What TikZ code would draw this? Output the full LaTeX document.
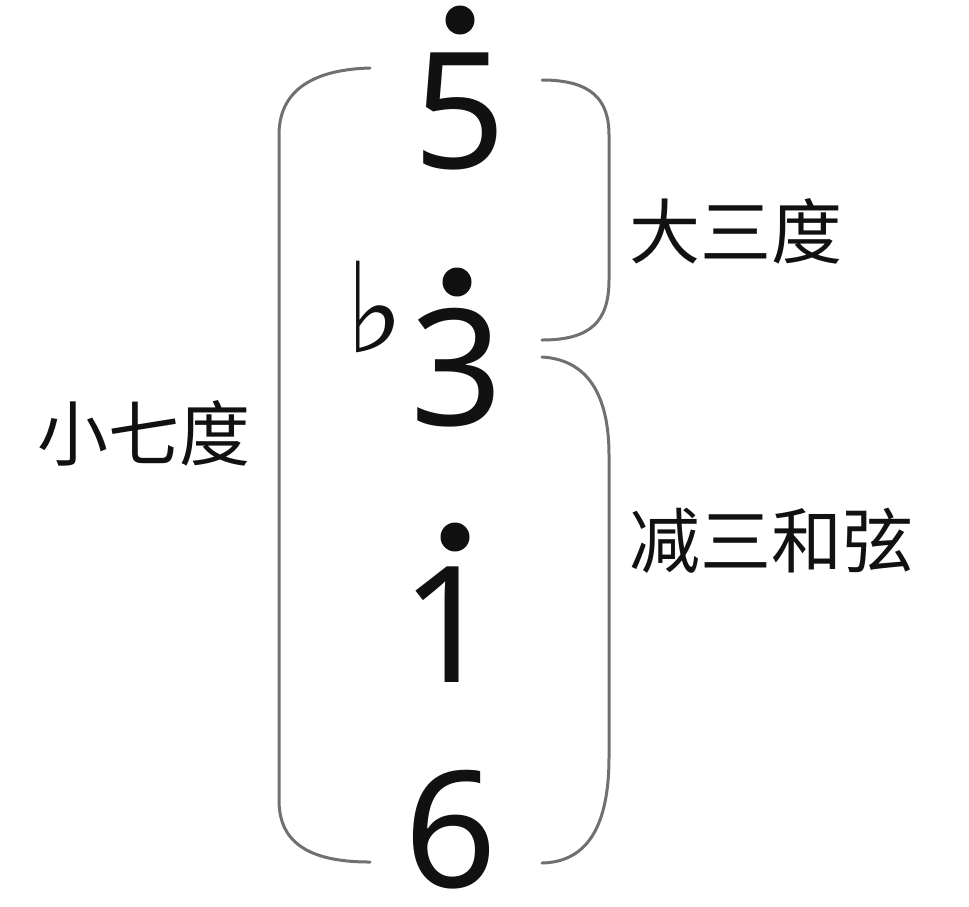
\documentclass[tikz,border=0pt]{standalone}
\usepackage{fontspec}
\setmainfont{Noto Sans CJK SC}
\newfontfamily\digitfont{Noto Sans}
\newfontfamily\symfont{DejaVu Sans}
\definecolor{bracegray}{HTML}{707070}
\definecolor{ink}{HTML}{111111}
\tikzset{
  digit/.style={inner sep=0pt, anchor=base, text=ink, font=\digitfont\fontsize{162}{164}\selectfont},
  label/.style={inner sep=0pt, anchor=base west, text=ink, font=\fontsize{71}{73}\selectfont},
  octdot/.style={circle, fill=ink, inner sep=0pt, minimum size=29pt},
  bracket/.style={draw=bracegray, line width=3pt, line cap=round}
}
\begin{document}
\begin{tikzpicture}[x=1pt,y=-1pt]
\useasboundingbox[fill=white] (0,0) rectangle (969,906);
% digits
\node[digit] (d5) at (460,168) {5};
\node[digit] (d3) at (457,425) {3};
\node[digit] (d1) at (448,682) {1};
\node[digit] (d6) at (451,887) {6};
% octave dots
\node[octdot] (p5) at (460,20) {};
\node[octdot] (p3) at (457,282) {};
\node[octdot] (p1) at (455,537) {};
% flat
\node[inner sep=0pt, anchor=base, text=ink, font=\symfont\fontsize{125}{125}\selectfont] (flat) at (375,352) {♭};
% left bracket
\coordinate (lt) at (370,68);
\coordinate (lb) at (370,862);
\draw[bracket] (lt) .. controls (300,70) and (279,100) .. (279,135)
  -- (279,800) .. controls (279,840) and (305,862) .. (lb);
% right upper brace
\coordinate (ut) at (542,80);
\coordinate (ub) at (542,340);
\draw[bracket] (ut) .. controls (592,80) and (609,100) .. (609,135)
  -- (609,280) .. controls (609,322) and (590,340) .. (ub);
% right lower brace
\coordinate (wt) at (542,357);
\coordinate (wb) at (542,863);
\draw[bracket] (wt) .. controls (594,360) and (609,405) .. (609,455)
  -- (609,757) .. controls (609,825) and (588,862) .. (wb);
% labels
\node[label] (maj3) at (629,258) {大三度};
\node[label] (dim) at (629,567) {减三和弦};
\node[label] (min7) at (37,460) {小七度};
\end{tikzpicture}
\end{document}
